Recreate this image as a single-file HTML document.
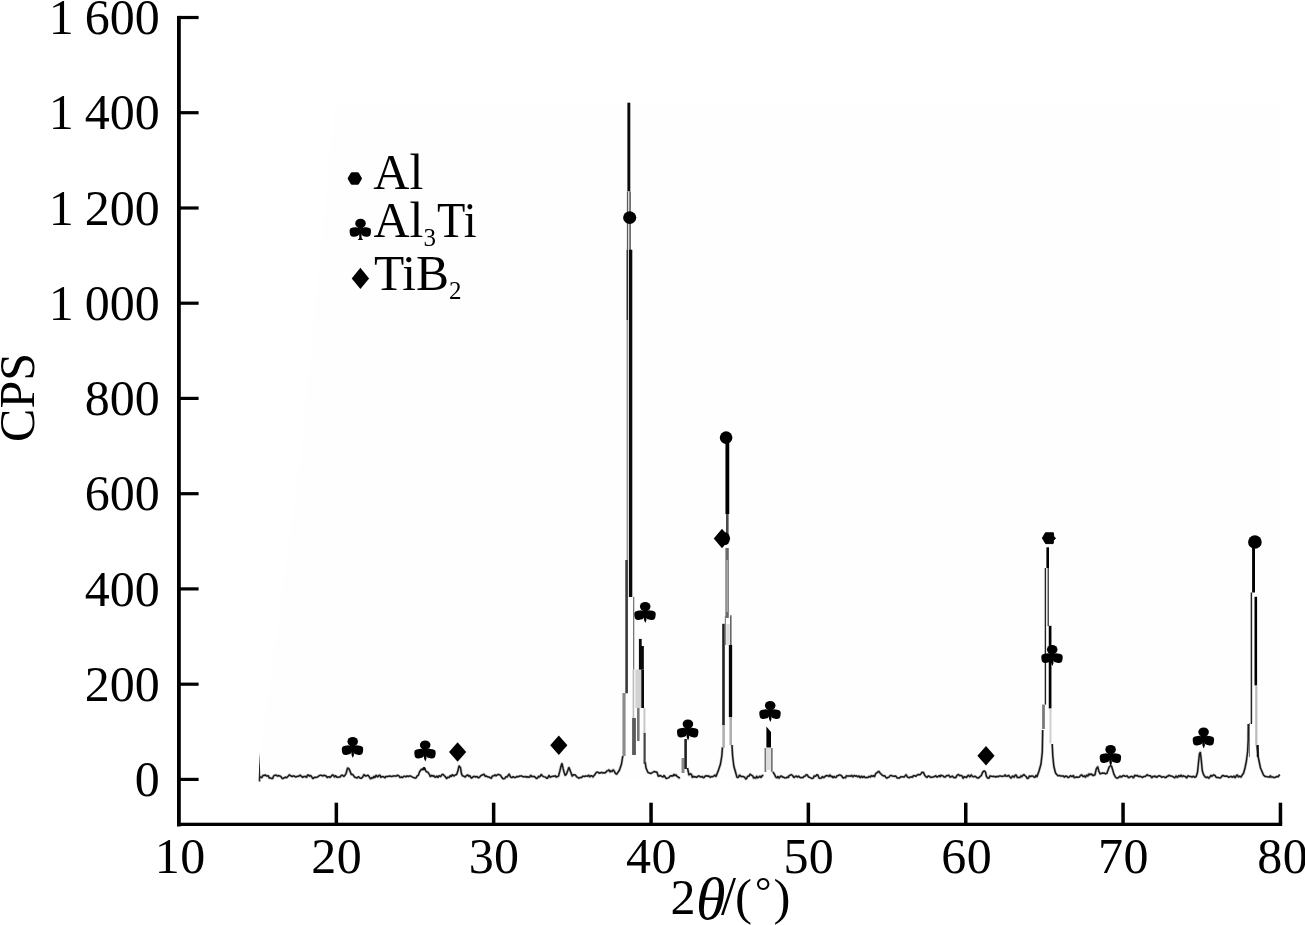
<!DOCTYPE html>
<html><head><meta charset="utf-8"><title>XRD</title>
<style>html,body{margin:0;padding:0;background:#fff;}body{width:1305px;height:925px;overflow:hidden;}svg{display:block;}text{font-family:"Liberation Serif",serif;fill:#000;}</style>
</head><body>
<svg width="1305" height="925" viewBox="0 0 1305 925">
<rect width="1305" height="925" fill="#fff"/>
<polygon points="335,102 1280,102 1280,779 259,779 262,740 300,460" fill="#fefefe"/>
<g fill="#000">
<rect x="177" y="15.9" width="3.8" height="810.6"/>
<rect x="177" y="822.7" width="1105.2" height="3.3"/>
<rect x="179" y="777.8" width="19.6" height="3.2"/>
<rect x="179" y="682.6" width="19.6" height="3.2"/>
<rect x="179" y="587.3" width="19.6" height="3.2"/>
<rect x="179" y="492.1" width="19.6" height="3.2"/>
<rect x="179" y="396.8" width="19.6" height="3.2"/>
<rect x="179" y="301.6" width="19.6" height="3.2"/>
<rect x="179" y="206.4" width="19.6" height="3.2"/>
<rect x="179" y="111.1" width="19.6" height="3.2"/>
<rect x="179" y="15.9" width="19.6" height="3.2"/>
<rect x="334.6" y="802.7" width="3.5" height="21"/>
<rect x="491.9" y="802.7" width="3.5" height="21"/>
<rect x="649.3" y="802.7" width="3.5" height="21"/>
<rect x="806.6" y="802.7" width="3.5" height="21"/>
<rect x="964.0" y="802.7" width="3.5" height="21"/>
<rect x="1121.3" y="802.7" width="3.5" height="21"/>
<rect x="1278.7" y="802.7" width="3.5" height="21"/>
</g>
<g font-size="50" text-anchor="end" word-spacing="-1.5">
<text x="159.8" y="796.0">0</text>
<text x="159.8" y="700.8">200</text>
<text x="159.8" y="605.5">400</text>
<text x="159.8" y="510.3">600</text>
<text x="159.8" y="415.1">800</text>
<text x="159.8" y="319.8">1 000</text>
<text x="159.8" y="224.6">1 200</text>
<text x="159.8" y="129.3">1 400</text>
<text x="159.8" y="34.1">1 600</text>
</g>
<g font-size="50" text-anchor="middle" letter-spacing="0.4">
<text x="180.2" y="872.6">10</text>
<text x="336.7" y="872.6">20</text>
<text x="494.1" y="872.6">30</text>
<text x="651.4" y="872.6">40</text>
<text x="808.8" y="872.6">50</text>
<text x="966.7" y="872.6">60</text>
<text x="1123.5" y="872.6">70</text>
<text x="1282.7" y="872.6">80</text>
</g>
<text font-size="50" text-anchor="middle" transform="translate(34.4,397.4) rotate(-90)">CPS</text>
<text font-size="50" x="670.6" y="914">2</text>
<text font-size="60" font-style="italic" x="696.0" y="919">θ</text>
<text font-size="54" x="720.9" y="914.3">/</text>
<text font-size="51" x="735" y="914">(</text>
<g style="will-change:transform"><text font-size="41" x="755.1" y="905.2">°</text></g>
<text font-size="51" x="773.6" y="914">)</text>
<text font-size="50" x="373.3" y="188.8">Al</text>
<text font-size="50" x="373.5" y="236.9">Al</text>
<g style="will-change:transform"><text font-size="25" x="423.4" y="245.8">3</text></g>
<text font-size="50" x="437.0" y="236.9" textLength="39.6" lengthAdjust="spacingAndGlyphs">Ti</text>
<text font-size="50" x="373.9" y="289.8" textLength="75.2" lengthAdjust="spacingAndGlyphs">TiB</text>
<g style="will-change:transform"><text font-size="25" x="448.9" y="299.1">2</text></g>
<g>
<polygon points="259.6,752 260.4,781.5 258.6,781.5" fill="#222"/>
<polyline fill="none" stroke="#666" stroke-opacity="0.38" stroke-width="2.8" stroke-linejoin="round" points="260.0,776.7 261.1,777.6 261.9,777.4 262.9,775.5 263.8,775.6 265.2,774.9 266.4,775.9 267.4,776.1 268.3,775.6 269.2,778.0 270.3,777.9 271.5,778.4 272.5,778.6 273.8,775.8 275.0,775.2 276.4,775.2 277.4,776.2 278.3,775.5 279.7,776.0 280.8,776.4 282.1,778.4 283.3,778.4 284.3,777.7 285.5,777.2 286.6,777.7 288.1,776.3 289.4,774.7 290.6,775.8 292.1,776.5 293.1,776.0 294.4,776.1 295.5,776.9 296.4,776.7 297.7,776.3 298.7,776.3 300.1,775.0 301.2,776.2 302.7,777.4 304.1,776.4 305.2,776.5 306.6,777.4 307.5,775.1 308.4,775.1 309.6,776.3 310.6,775.4 311.7,776.9 312.9,778.7 314.1,777.4 315.4,777.3 316.2,777.4 317.6,777.0 318.9,775.9 320.0,775.3 321.2,775.3 322.1,775.6 323.0,776.0 323.8,775.2 324.7,775.6 325.8,775.7 327.2,777.6 328.1,776.8 329.2,776.8 330.0,777.6 331.5,775.9 332.7,774.7 333.6,775.5 334.5,777.2 335.4,775.6 336.9,777.3 337.8,777.3 338.6,776.9 340.1,777.1 341.4,775.3 342.5,775.2 343.8,776.5 345.2,774.9 346.1,773.3 347.6,768.0 349.0,768.8 350.3,771.9 351.4,774.6 352.3,774.3 353.3,775.1 354.5,777.1 355.7,777.4 357.1,778.1 358.2,776.8 359.2,777.1 360.1,778.2 361.5,778.3 362.7,777.0 364.0,774.5 365.3,776.0 366.6,775.8 367.8,775.1 369.1,776.6 370.5,778.9 371.6,777.7 373.0,778.1 373.9,776.2 374.9,777.7 376.2,775.2 377.6,777.0 378.9,775.5 380.0,775.1 380.8,777.4 382.1,776.6 383.6,776.7 385.0,777.9 385.9,776.5 386.9,776.5 388.1,776.4 389.2,776.0 390.7,776.2 391.8,776.6 393.2,775.9 394.7,776.0 395.8,776.1 396.6,776.0 397.6,775.1 398.9,775.9 400.1,777.6 401.3,776.9 402.4,777.6 403.8,776.3 405.0,776.2 405.9,777.0 407.1,775.9 408.4,776.5 409.5,775.9 410.7,776.1 412.0,776.8 413.2,777.4 414.6,778.1 416.0,778.0 417.0,776.1 418.5,775.1 419.4,772.1 420.5,770.5 421.4,769.3 422.7,769.9 424.1,768.0 425.4,770.1 426.3,771.7 427.8,772.1 429.3,774.3 430.4,776.6 431.8,775.2 432.9,776.3 434.0,775.7 435.0,777.3 435.8,777.1 436.9,776.0 437.9,777.5 439.1,775.7 440.6,776.7 442.1,774.4 443.0,774.4 444.4,775.7 445.3,776.8 446.7,778.7 447.7,777.1 449.1,777.6 450.4,775.5 451.3,776.5 452.4,774.6 453.8,776.1 455.2,775.0 456.6,774.5 458.0,770.6 459.0,765.8 460.5,767.7 461.4,773.4 462.3,775.5 463.2,776.0 464.2,776.4 465.2,777.0 466.2,775.8 467.1,775.2 467.9,775.0 468.8,776.4 469.9,775.7 471.1,778.0 471.9,777.9 473.0,776.9 474.4,776.3 475.6,777.0 477.1,776.5 478.5,777.9 479.7,777.1 480.7,775.8 481.6,775.2 483.0,774.8 483.9,774.1 485.3,776.4 486.5,776.0 487.5,776.8 488.6,777.0 489.7,777.3 491.2,778.5 492.4,776.1 493.9,775.8 494.9,774.9 496.0,775.9 497.1,775.0 498.3,774.4 499.3,774.7 500.3,775.1 501.2,776.4 502.1,777.8 503.3,778.8 504.6,778.6 506.0,776.6 507.0,777.1 507.9,775.8 509.2,774.0 510.5,777.0 511.8,777.6 513.1,776.6 514.3,777.4 515.7,777.4 517.1,776.4 518.5,776.7 519.8,776.0 520.6,775.9 521.7,775.9 523.0,776.8 524.3,776.7 525.6,776.4 526.4,777.3 527.7,776.8 528.9,777.2 529.7,777.1 530.7,775.1 531.7,776.5 532.6,776.5 534.1,776.5 535.2,777.2 536.4,778.5 537.7,778.0 538.5,776.2 539.5,776.9 540.5,775.8 541.3,774.3 542.3,775.9 543.6,776.6 544.6,776.9 545.7,777.2 546.6,778.2 547.6,778.2 549.0,775.3 550.1,777.2 551.6,776.6 552.6,776.3 554.1,776.3 555.3,775.7 556.4,777.2 557.3,776.6 558.5,776.1 559.8,771.2 561.2,765.4 562.0,763.4 563.2,768.9 564.2,772.8 565.2,775.4 566.6,773.8 567.9,770.3 568.8,767.4 570.1,770.4 571.1,773.1 572.2,776.2 573.4,774.7 574.5,774.8 575.3,775.0 576.7,776.8 578.2,777.7 579.2,778.3 580.1,777.5 581.6,777.6 582.9,776.1 584.4,776.5 585.6,776.0 586.4,776.1 587.5,776.2 588.8,775.2 589.6,776.9 590.5,775.9 591.5,775.6 592.8,777.1 593.8,775.8 594.8,774.8 595.9,772.9 596.8,772.2 598.3,772.3 599.2,773.3 600.7,772.7 601.6,772.4 602.5,773.0 603.3,772.6 604.3,773.0 605.7,772.5 606.8,771.0 608.0,770.6 609.0,769.7 610.0,772.0 610.9,770.8 612.2,771.5 613.1,769.8 614.1,770.8 615.2,773.1 616.6,774.3 619.5,770.0 621.5,764.0 622.8,756.0"/><polyline fill="none" stroke="#1a1a1a" stroke-width="1.5" stroke-linejoin="bevel" points="260.0,776.7 261.1,777.6 261.9,777.4 262.9,775.5 263.8,775.6 265.2,774.9 266.4,775.9 267.4,776.1 268.3,775.6 269.2,778.0 270.3,777.9 271.5,778.4 272.5,778.6 273.8,775.8 275.0,775.2 276.4,775.2 277.4,776.2 278.3,775.5 279.7,776.0 280.8,776.4 282.1,778.4 283.3,778.4 284.3,777.7 285.5,777.2 286.6,777.7 288.1,776.3 289.4,774.7 290.6,775.8 292.1,776.5 293.1,776.0 294.4,776.1 295.5,776.9 296.4,776.7 297.7,776.3 298.7,776.3 300.1,775.0 301.2,776.2 302.7,777.4 304.1,776.4 305.2,776.5 306.6,777.4 307.5,775.1 308.4,775.1 309.6,776.3 310.6,775.4 311.7,776.9 312.9,778.7 314.1,777.4 315.4,777.3 316.2,777.4 317.6,777.0 318.9,775.9 320.0,775.3 321.2,775.3 322.1,775.6 323.0,776.0 323.8,775.2 324.7,775.6 325.8,775.7 327.2,777.6 328.1,776.8 329.2,776.8 330.0,777.6 331.5,775.9 332.7,774.7 333.6,775.5 334.5,777.2 335.4,775.6 336.9,777.3 337.8,777.3 338.6,776.9 340.1,777.1 341.4,775.3 342.5,775.2 343.8,776.5 345.2,774.9 346.1,773.3 347.6,768.0 349.0,768.8 350.3,771.9 351.4,774.6 352.3,774.3 353.3,775.1 354.5,777.1 355.7,777.4 357.1,778.1 358.2,776.8 359.2,777.1 360.1,778.2 361.5,778.3 362.7,777.0 364.0,774.5 365.3,776.0 366.6,775.8 367.8,775.1 369.1,776.6 370.5,778.9 371.6,777.7 373.0,778.1 373.9,776.2 374.9,777.7 376.2,775.2 377.6,777.0 378.9,775.5 380.0,775.1 380.8,777.4 382.1,776.6 383.6,776.7 385.0,777.9 385.9,776.5 386.9,776.5 388.1,776.4 389.2,776.0 390.7,776.2 391.8,776.6 393.2,775.9 394.7,776.0 395.8,776.1 396.6,776.0 397.6,775.1 398.9,775.9 400.1,777.6 401.3,776.9 402.4,777.6 403.8,776.3 405.0,776.2 405.9,777.0 407.1,775.9 408.4,776.5 409.5,775.9 410.7,776.1 412.0,776.8 413.2,777.4 414.6,778.1 416.0,778.0 417.0,776.1 418.5,775.1 419.4,772.1 420.5,770.5 421.4,769.3 422.7,769.9 424.1,768.0 425.4,770.1 426.3,771.7 427.8,772.1 429.3,774.3 430.4,776.6 431.8,775.2 432.9,776.3 434.0,775.7 435.0,777.3 435.8,777.1 436.9,776.0 437.9,777.5 439.1,775.7 440.6,776.7 442.1,774.4 443.0,774.4 444.4,775.7 445.3,776.8 446.7,778.7 447.7,777.1 449.1,777.6 450.4,775.5 451.3,776.5 452.4,774.6 453.8,776.1 455.2,775.0 456.6,774.5 458.0,770.6 459.0,765.8 460.5,767.7 461.4,773.4 462.3,775.5 463.2,776.0 464.2,776.4 465.2,777.0 466.2,775.8 467.1,775.2 467.9,775.0 468.8,776.4 469.9,775.7 471.1,778.0 471.9,777.9 473.0,776.9 474.4,776.3 475.6,777.0 477.1,776.5 478.5,777.9 479.7,777.1 480.7,775.8 481.6,775.2 483.0,774.8 483.9,774.1 485.3,776.4 486.5,776.0 487.5,776.8 488.6,777.0 489.7,777.3 491.2,778.5 492.4,776.1 493.9,775.8 494.9,774.9 496.0,775.9 497.1,775.0 498.3,774.4 499.3,774.7 500.3,775.1 501.2,776.4 502.1,777.8 503.3,778.8 504.6,778.6 506.0,776.6 507.0,777.1 507.9,775.8 509.2,774.0 510.5,777.0 511.8,777.6 513.1,776.6 514.3,777.4 515.7,777.4 517.1,776.4 518.5,776.7 519.8,776.0 520.6,775.9 521.7,775.9 523.0,776.8 524.3,776.7 525.6,776.4 526.4,777.3 527.7,776.8 528.9,777.2 529.7,777.1 530.7,775.1 531.7,776.5 532.6,776.5 534.1,776.5 535.2,777.2 536.4,778.5 537.7,778.0 538.5,776.2 539.5,776.9 540.5,775.8 541.3,774.3 542.3,775.9 543.6,776.6 544.6,776.9 545.7,777.2 546.6,778.2 547.6,778.2 549.0,775.3 550.1,777.2 551.6,776.6 552.6,776.3 554.1,776.3 555.3,775.7 556.4,777.2 557.3,776.6 558.5,776.1 559.8,771.2 561.2,765.4 562.0,763.4 563.2,768.9 564.2,772.8 565.2,775.4 566.6,773.8 567.9,770.3 568.8,767.4 570.1,770.4 571.1,773.1 572.2,776.2 573.4,774.7 574.5,774.8 575.3,775.0 576.7,776.8 578.2,777.7 579.2,778.3 580.1,777.5 581.6,777.6 582.9,776.1 584.4,776.5 585.6,776.0 586.4,776.1 587.5,776.2 588.8,775.2 589.6,776.9 590.5,775.9 591.5,775.6 592.8,777.1 593.8,775.8 594.8,774.8 595.9,772.9 596.8,772.2 598.3,772.3 599.2,773.3 600.7,772.7 601.6,772.4 602.5,773.0 603.3,772.6 604.3,773.0 605.7,772.5 606.8,771.0 608.0,770.6 609.0,769.7 610.0,772.0 610.9,770.8 612.2,771.5 613.1,769.8 614.1,770.8 615.2,773.1 616.6,774.3 619.5,770.0 621.5,764.0 622.8,756.0"/>
<polyline fill="none" stroke="#666" stroke-opacity="0.38" stroke-width="2.8" stroke-linejoin="round" points="645.2,762.0 646.0,768.0 648.0,772.5 651.0,773.5 654.0,771.5 657.0,772.2 658.3,776.3 659.4,776.0 660.2,775.4 661.7,776.3 663.1,777.0 664.0,775.3 665.0,776.8 666.2,778.5 667.5,778.1 668.9,777.6 670.1,776.1 671.4,775.8 672.9,776.0 673.9,774.3 674.8,775.6 676.1,774.8 677.0,776.4 678.2,777.0 679.1,778.0 680.0,777.4"/><polyline fill="none" stroke="#1a1a1a" stroke-width="1.5" stroke-linejoin="bevel" points="645.2,762.0 646.0,768.0 648.0,772.5 651.0,773.5 654.0,771.5 657.0,772.2 658.3,776.3 659.4,776.0 660.2,775.4 661.7,776.3 663.1,777.0 664.0,775.3 665.0,776.8 666.2,778.5 667.5,778.1 668.9,777.6 670.1,776.1 671.4,775.8 672.9,776.0 673.9,774.3 674.8,775.6 676.1,774.8 677.0,776.4 678.2,777.0 679.1,778.0 680.0,777.4"/>
<polyline fill="none" stroke="#666" stroke-opacity="0.38" stroke-width="2.8" stroke-linejoin="round" points="687.5,768.0 689.0,775.1 690.3,773.7 691.4,774.3 692.4,777.5 693.7,776.3 694.5,776.9 695.7,776.8 696.7,777.4 698.2,776.0 699.0,776.0 700.1,776.7 701.0,777.0 702.3,776.4 703.3,777.8 704.3,777.4 705.3,775.9 706.6,775.8 708.1,776.3 709.0,775.9 710.1,777.4 711.5,776.6 712.6,776.7 714.1,775.8 714.9,775.0 716.0,776.6 718.5,770.0 720.5,764.0 721.8,756.0 722.5,747.0"/><polyline fill="none" stroke="#1a1a1a" stroke-width="1.5" stroke-linejoin="bevel" points="687.5,768.0 689.0,775.1 690.3,773.7 691.4,774.3 692.4,777.5 693.7,776.3 694.5,776.9 695.7,776.8 696.7,777.4 698.2,776.0 699.0,776.0 700.1,776.7 701.0,777.0 702.3,776.4 703.3,777.8 704.3,777.4 705.3,775.9 706.6,775.8 708.1,776.3 709.0,775.9 710.1,777.4 711.5,776.6 712.6,776.7 714.1,775.8 714.9,775.0 716.0,776.6 718.5,770.0 720.5,764.0 721.8,756.0 722.5,747.0"/>
<polyline fill="none" stroke="#666" stroke-opacity="0.38" stroke-width="2.8" stroke-linejoin="round" points="732.0,745.0 732.6,756.0 733.8,766.0 735.5,772.0 737.0,777.4 738.5,777.3 739.5,775.0 741.0,776.4 741.8,776.5 742.9,776.6 743.9,776.8 744.7,777.4 745.8,779.0 746.6,778.5 747.6,776.2 749.0,776.2 750.1,774.0 751.2,775.1 752.6,775.8 753.7,778.3 754.5,777.3 755.9,778.2 756.7,776.1 757.6,778.0 758.5,777.3 760.0,776.1 761.0,777.6 762.2,775.6 763.5,775.4"/><polyline fill="none" stroke="#1a1a1a" stroke-width="1.5" stroke-linejoin="bevel" points="732.0,745.0 732.6,756.0 733.8,766.0 735.5,772.0 737.0,777.4 738.5,777.3 739.5,775.0 741.0,776.4 741.8,776.5 742.9,776.6 743.9,776.8 744.7,777.4 745.8,779.0 746.6,778.5 747.6,776.2 749.0,776.2 750.1,774.0 751.2,775.1 752.6,775.8 753.7,778.3 754.5,777.3 755.9,778.2 756.7,776.1 757.6,778.0 758.5,777.3 760.0,776.1 761.0,777.6 762.2,775.6 763.5,775.4"/>
<polyline fill="none" stroke="#666" stroke-opacity="0.38" stroke-width="2.8" stroke-linejoin="round" points="773.0,772.0 774.5,774.4 775.8,777.1 777.1,777.9 777.9,776.4 779.0,778.2 780.5,776.2 781.5,776.0 782.6,777.2 783.5,777.1 784.9,777.9 786.2,777.8 787.2,777.0 788.3,777.6 789.1,775.6 790.5,775.1 791.3,774.5 792.5,775.5 794.0,777.6 795.5,776.3 796.3,775.9 797.5,777.3 798.6,776.1 799.7,777.3 801.0,777.8 802.3,777.4 803.2,777.5 804.2,776.2 805.3,776.1 806.2,774.7 807.2,774.8 808.6,777.0 809.7,777.4 811.2,778.1 812.1,778.5 813.4,777.9 814.2,775.9 815.6,776.2 817.1,774.6 818.1,775.4 819.0,778.1 820.2,778.3 821.3,778.1 822.4,776.4 823.7,777.8 824.6,776.8 825.8,775.8 826.9,775.6 827.8,775.7 829.1,776.5 830.0,774.8 831.0,776.7 832.0,776.1 832.9,777.8 834.1,776.4 835.0,777.3 836.1,777.5 837.0,775.8 838.3,775.5 839.3,774.9 840.8,775.3 841.9,776.2 843.0,778.1 844.5,777.3 845.5,778.0 846.4,775.7 847.8,776.1 849.2,775.9 850.6,776.2 851.6,775.2 852.7,776.9 854.2,775.5 855.4,776.2 856.6,775.7 857.6,776.8 859.0,776.0 860.2,777.7 861.6,776.0 862.5,777.6 864.0,776.3 864.8,777.4 865.9,777.5 867.1,777.5 868.1,777.4 869.0,776.3 870.4,777.1 871.3,775.5 872.4,776.3 873.5,775.5 874.5,776.8 875.9,773.3 877.1,772.7 877.9,771.8 878.8,771.3 880.0,773.0 881.0,774.0 882.2,775.1 883.5,776.0 884.6,775.6 885.8,777.3 886.8,778.2 888.1,777.4 889.0,777.1 889.9,775.9 891.0,775.3 892.1,775.9 892.9,776.1 893.8,776.3 895.1,776.0 896.0,776.3 897.1,777.9 897.9,778.1 899.4,778.1 900.8,776.7 902.3,776.8 903.8,777.1 904.7,776.4 906.1,774.6 907.2,776.6 908.1,777.4 909.1,777.7 910.0,777.3 911.4,776.8 912.4,777.3 913.4,775.7 914.4,775.6 915.8,776.4 917.2,774.9 918.6,774.5 919.8,774.8 920.8,774.0 922.0,772.3 923.4,772.4 924.9,775.6 926.0,776.8 927.0,777.5 928.2,776.0 929.5,776.3 930.4,777.2 931.3,777.4 932.3,777.0 933.7,776.9 935.0,776.3 935.8,775.6 936.7,777.1 937.8,776.7 939.2,775.5 940.2,776.8 941.0,775.2 942.1,775.6 943.1,776.0 944.3,777.1 945.3,777.1 946.4,775.7 947.9,775.5 948.8,775.1 950.0,777.2 951.4,776.6 952.3,776.0 953.6,777.6 954.6,777.5 955.8,777.7 957.1,775.2 958.5,774.5 959.7,775.7 960.6,775.4 962.0,775.9 963.2,778.5 964.1,776.6 965.3,777.0 966.5,777.5 967.5,776.0 968.5,775.2 969.9,776.9 971.2,774.8 972.6,776.6 973.7,776.9 974.8,776.2 975.7,776.7 976.5,777.3 977.9,778.2 979.2,777.5 980.2,776.3 981.3,775.7 982.5,772.4 983.8,771.1 984.7,771.1 985.5,772.1 986.5,776.6 987.9,778.2 989.0,778.1 990.0,775.9 991.4,776.3 992.7,776.4 994.2,776.3 995.6,777.0 997.0,776.3 998.3,776.7 999.3,776.0 1000.6,776.0 1002.0,776.4 1002.8,776.2 1004.3,776.1 1005.2,774.8 1006.0,776.2 1007.2,776.2 1008.6,775.3 1009.8,776.8 1011.1,778.2 1012.6,775.9 1014.0,777.3 1015.4,775.0 1016.4,775.2 1017.2,777.5 1018.6,777.5 1019.9,777.5 1020.9,775.8 1021.8,776.9 1022.8,775.4 1023.9,774.5 1024.8,775.5 1026.1,776.5 1027.2,778.4 1028.3,778.3 1029.5,775.9 1030.6,776.5 1032.0,775.9 1033.3,776.4 1034.2,777.3 1035.1,777.3 1036.0,775.2 1036.9,776.9 1039.0,771.0 1041.0,764.0 1042.3,752.0 1042.7,730.0"/><polyline fill="none" stroke="#1a1a1a" stroke-width="1.5" stroke-linejoin="bevel" points="773.0,772.0 774.5,774.4 775.8,777.1 777.1,777.9 777.9,776.4 779.0,778.2 780.5,776.2 781.5,776.0 782.6,777.2 783.5,777.1 784.9,777.9 786.2,777.8 787.2,777.0 788.3,777.6 789.1,775.6 790.5,775.1 791.3,774.5 792.5,775.5 794.0,777.6 795.5,776.3 796.3,775.9 797.5,777.3 798.6,776.1 799.7,777.3 801.0,777.8 802.3,777.4 803.2,777.5 804.2,776.2 805.3,776.1 806.2,774.7 807.2,774.8 808.6,777.0 809.7,777.4 811.2,778.1 812.1,778.5 813.4,777.9 814.2,775.9 815.6,776.2 817.1,774.6 818.1,775.4 819.0,778.1 820.2,778.3 821.3,778.1 822.4,776.4 823.7,777.8 824.6,776.8 825.8,775.8 826.9,775.6 827.8,775.7 829.1,776.5 830.0,774.8 831.0,776.7 832.0,776.1 832.9,777.8 834.1,776.4 835.0,777.3 836.1,777.5 837.0,775.8 838.3,775.5 839.3,774.9 840.8,775.3 841.9,776.2 843.0,778.1 844.5,777.3 845.5,778.0 846.4,775.7 847.8,776.1 849.2,775.9 850.6,776.2 851.6,775.2 852.7,776.9 854.2,775.5 855.4,776.2 856.6,775.7 857.6,776.8 859.0,776.0 860.2,777.7 861.6,776.0 862.5,777.6 864.0,776.3 864.8,777.4 865.9,777.5 867.1,777.5 868.1,777.4 869.0,776.3 870.4,777.1 871.3,775.5 872.4,776.3 873.5,775.5 874.5,776.8 875.9,773.3 877.1,772.7 877.9,771.8 878.8,771.3 880.0,773.0 881.0,774.0 882.2,775.1 883.5,776.0 884.6,775.6 885.8,777.3 886.8,778.2 888.1,777.4 889.0,777.1 889.9,775.9 891.0,775.3 892.1,775.9 892.9,776.1 893.8,776.3 895.1,776.0 896.0,776.3 897.1,777.9 897.9,778.1 899.4,778.1 900.8,776.7 902.3,776.8 903.8,777.1 904.7,776.4 906.1,774.6 907.2,776.6 908.1,777.4 909.1,777.7 910.0,777.3 911.4,776.8 912.4,777.3 913.4,775.7 914.4,775.6 915.8,776.4 917.2,774.9 918.6,774.5 919.8,774.8 920.8,774.0 922.0,772.3 923.4,772.4 924.9,775.6 926.0,776.8 927.0,777.5 928.2,776.0 929.5,776.3 930.4,777.2 931.3,777.4 932.3,777.0 933.7,776.9 935.0,776.3 935.8,775.6 936.7,777.1 937.8,776.7 939.2,775.5 940.2,776.8 941.0,775.2 942.1,775.6 943.1,776.0 944.3,777.1 945.3,777.1 946.4,775.7 947.9,775.5 948.8,775.1 950.0,777.2 951.4,776.6 952.3,776.0 953.6,777.6 954.6,777.5 955.8,777.7 957.1,775.2 958.5,774.5 959.7,775.7 960.6,775.4 962.0,775.9 963.2,778.5 964.1,776.6 965.3,777.0 966.5,777.5 967.5,776.0 968.5,775.2 969.9,776.9 971.2,774.8 972.6,776.6 973.7,776.9 974.8,776.2 975.7,776.7 976.5,777.3 977.9,778.2 979.2,777.5 980.2,776.3 981.3,775.7 982.5,772.4 983.8,771.1 984.7,771.1 985.5,772.1 986.5,776.6 987.9,778.2 989.0,778.1 990.0,775.9 991.4,776.3 992.7,776.4 994.2,776.3 995.6,777.0 997.0,776.3 998.3,776.7 999.3,776.0 1000.6,776.0 1002.0,776.4 1002.8,776.2 1004.3,776.1 1005.2,774.8 1006.0,776.2 1007.2,776.2 1008.6,775.3 1009.8,776.8 1011.1,778.2 1012.6,775.9 1014.0,777.3 1015.4,775.0 1016.4,775.2 1017.2,777.5 1018.6,777.5 1019.9,777.5 1020.9,775.8 1021.8,776.9 1022.8,775.4 1023.9,774.5 1024.8,775.5 1026.1,776.5 1027.2,778.4 1028.3,778.3 1029.5,775.9 1030.6,776.5 1032.0,775.9 1033.3,776.4 1034.2,777.3 1035.1,777.3 1036.0,775.2 1036.9,776.9 1039.0,771.0 1041.0,764.0 1042.3,752.0 1042.7,730.0"/>
<polyline fill="none" stroke="#666" stroke-opacity="0.38" stroke-width="2.8" stroke-linejoin="round" points="1052.2,744.0 1052.8,756.0 1053.8,766.0 1055.5,773.0 1057.0,774.7 1058.1,775.9 1059.5,775.4 1060.6,776.1 1062.0,775.9 1063.5,776.0 1064.4,777.2 1065.6,776.1 1066.8,776.3 1068.2,777.6 1069.5,776.8 1070.6,775.6 1071.7,776.5 1072.5,776.6 1073.3,775.3 1074.3,777.7 1075.5,777.2 1076.9,777.1 1078.0,777.3 1079.3,777.0 1080.6,775.4 1081.6,774.8 1083.0,776.6 1084.3,775.8 1085.4,777.3 1086.6,775.1 1087.8,776.2 1088.7,773.9 1089.7,774.9 1091.1,773.9 1092.0,774.6 1093.1,775.6 1094.0,774.9 1094.9,775.1 1096.2,769.1 1097.7,766.7 1098.8,771.0 1100.1,773.9 1101.2,773.5 1102.5,773.0 1103.4,773.2 1104.3,773.1 1105.6,773.9 1106.8,773.4 1107.9,770.4 1109.1,767.2 1110.4,765.6 1111.5,766.1 1112.8,770.2 1113.8,773.9 1115.2,776.7 1116.5,778.1 1117.8,778.1 1118.9,777.2 1120.1,776.1 1121.2,777.1 1122.5,776.1 1123.5,775.4 1124.6,776.0 1125.7,776.4 1127.2,775.8 1128.4,777.7 1129.5,777.3 1131.0,776.4 1132.2,776.6 1133.5,778.0 1134.7,775.2 1135.9,775.7 1137.2,775.4 1138.4,776.5 1139.6,776.2 1141.1,776.6 1142.3,777.5 1143.7,776.6 1145.2,776.4 1146.0,775.8 1147.1,774.7 1148.2,775.6 1149.5,775.7 1150.4,775.7 1151.8,777.9 1152.9,776.3 1154.3,776.7 1155.2,775.9 1156.6,777.4 1157.8,776.4 1159.0,775.7 1160.5,776.1 1161.7,777.4 1163.1,776.6 1164.1,776.9 1165.0,777.5 1166.1,777.5 1167.0,776.2 1168.0,776.3 1169.0,775.2 1170.3,775.9 1171.2,776.0 1172.4,776.4 1173.6,777.2 1174.7,777.9 1176.1,775.8 1177.4,777.7 1178.8,775.5 1180.2,776.6 1181.0,775.0 1182.4,776.8 1183.4,775.7 1184.3,776.2 1185.7,776.7 1186.6,778.0 1187.9,775.8 1189.4,776.4 1190.7,776.5 1192.1,777.1 1193.5,776.2 1194.8,777.4 1196.1,776.7 1197.5,772.3 1198.5,762.5 1199.4,754.1 1200.3,752.2 1201.2,759.3 1202.3,770.8 1203.7,774.9 1205.1,776.9 1206.3,777.7 1207.7,777.0 1208.8,778.4 1209.6,777.4 1210.9,775.3 1212.1,776.3 1213.6,774.8 1215.0,775.5 1216.2,777.3 1217.0,777.6 1218.2,777.5 1219.6,777.9 1220.8,777.7 1222.1,775.8 1223.2,775.5 1224.4,776.2 1225.4,776.3 1226.5,776.0 1227.5,776.5 1229.0,777.3 1230.3,776.6 1231.3,776.5 1232.6,777.3 1233.9,775.9 1235.2,777.9 1236.4,775.5 1237.4,775.0 1238.3,777.0 1239.6,776.2 1240.9,777.2 1243.6,773.0 1245.0,768.0 1246.4,761.0 1247.6,752.0 1248.2,740.0 1248.3,724.0"/><polyline fill="none" stroke="#1a1a1a" stroke-width="1.5" stroke-linejoin="bevel" points="1052.2,744.0 1052.8,756.0 1053.8,766.0 1055.5,773.0 1057.0,774.7 1058.1,775.9 1059.5,775.4 1060.6,776.1 1062.0,775.9 1063.5,776.0 1064.4,777.2 1065.6,776.1 1066.8,776.3 1068.2,777.6 1069.5,776.8 1070.6,775.6 1071.7,776.5 1072.5,776.6 1073.3,775.3 1074.3,777.7 1075.5,777.2 1076.9,777.1 1078.0,777.3 1079.3,777.0 1080.6,775.4 1081.6,774.8 1083.0,776.6 1084.3,775.8 1085.4,777.3 1086.6,775.1 1087.8,776.2 1088.7,773.9 1089.7,774.9 1091.1,773.9 1092.0,774.6 1093.1,775.6 1094.0,774.9 1094.9,775.1 1096.2,769.1 1097.7,766.7 1098.8,771.0 1100.1,773.9 1101.2,773.5 1102.5,773.0 1103.4,773.2 1104.3,773.1 1105.6,773.9 1106.8,773.4 1107.9,770.4 1109.1,767.2 1110.4,765.6 1111.5,766.1 1112.8,770.2 1113.8,773.9 1115.2,776.7 1116.5,778.1 1117.8,778.1 1118.9,777.2 1120.1,776.1 1121.2,777.1 1122.5,776.1 1123.5,775.4 1124.6,776.0 1125.7,776.4 1127.2,775.8 1128.4,777.7 1129.5,777.3 1131.0,776.4 1132.2,776.6 1133.5,778.0 1134.7,775.2 1135.9,775.7 1137.2,775.4 1138.4,776.5 1139.6,776.2 1141.1,776.6 1142.3,777.5 1143.7,776.6 1145.2,776.4 1146.0,775.8 1147.1,774.7 1148.2,775.6 1149.5,775.7 1150.4,775.7 1151.8,777.9 1152.9,776.3 1154.3,776.7 1155.2,775.9 1156.6,777.4 1157.8,776.4 1159.0,775.7 1160.5,776.1 1161.7,777.4 1163.1,776.6 1164.1,776.9 1165.0,777.5 1166.1,777.5 1167.0,776.2 1168.0,776.3 1169.0,775.2 1170.3,775.9 1171.2,776.0 1172.4,776.4 1173.6,777.2 1174.7,777.9 1176.1,775.8 1177.4,777.7 1178.8,775.5 1180.2,776.6 1181.0,775.0 1182.4,776.8 1183.4,775.7 1184.3,776.2 1185.7,776.7 1186.6,778.0 1187.9,775.8 1189.4,776.4 1190.7,776.5 1192.1,777.1 1193.5,776.2 1194.8,777.4 1196.1,776.7 1197.5,772.3 1198.5,762.5 1199.4,754.1 1200.3,752.2 1201.2,759.3 1202.3,770.8 1203.7,774.9 1205.1,776.9 1206.3,777.7 1207.7,777.0 1208.8,778.4 1209.6,777.4 1210.9,775.3 1212.1,776.3 1213.6,774.8 1215.0,775.5 1216.2,777.3 1217.0,777.6 1218.2,777.5 1219.6,777.9 1220.8,777.7 1222.1,775.8 1223.2,775.5 1224.4,776.2 1225.4,776.3 1226.5,776.0 1227.5,776.5 1229.0,777.3 1230.3,776.6 1231.3,776.5 1232.6,777.3 1233.9,775.9 1235.2,777.9 1236.4,775.5 1237.4,775.0 1238.3,777.0 1239.6,776.2 1240.9,777.2 1243.6,773.0 1245.0,768.0 1246.4,761.0 1247.6,752.0 1248.2,740.0 1248.3,724.0"/>
<polyline fill="none" stroke="#666" stroke-opacity="0.38" stroke-width="2.8" stroke-linejoin="round" points="1257.0,745.0 1258.2,757.0 1260.5,768.0 1263.5,775.0 1265.0,776.4 1266.2,776.6 1267.5,776.8 1268.4,776.9 1269.5,777.2 1270.4,775.6 1271.2,777.1 1272.7,776.9 1273.7,777.6 1275.1,777.4 1276.1,776.8 1277.1,776.5 1278.2,776.7 1279.7,774.5"/><polyline fill="none" stroke="#1a1a1a" stroke-width="1.5" stroke-linejoin="bevel" points="1257.0,745.0 1258.2,757.0 1260.5,768.0 1263.5,775.0 1265.0,776.4 1266.2,776.6 1267.5,776.8 1268.4,776.9 1269.5,777.2 1270.4,775.6 1271.2,777.1 1272.7,776.9 1273.7,777.6 1275.1,777.4 1276.1,776.8 1277.1,776.5 1278.2,776.7 1279.7,774.5"/>
<circle cx="424" cy="768.6" r="1.7" fill="#111"/>
<rect x="627.40" y="102.7" width="2.9" height="88.8" fill="#0a0a0a"/>
<rect x="627.00" y="191.5" width="3.6" height="58.5" fill="#d8d8d8"/>
<rect x="626.85" y="191.5" width="1.1" height="58.5" fill="#5a5a5a"/>
<rect x="629.45" y="191.5" width="1.3" height="58.5" fill="#4a4a4a"/>
<rect x="628.90" y="249.7" width="3.4" height="347.3" fill="#0a0a0a"/>
<rect x="626.50" y="250.0" width="1.6" height="70.0" fill="#333"/>
<rect x="626.50" y="320.0" width="1.6" height="240.0" fill="#9a9a9a"/>
<rect x="625.30" y="560.0" width="2.6" height="133.3" fill="#3a3a3a"/>
<rect x="622.40" y="693.0" width="3.2" height="63.0" fill="#8c8c8c"/>
<rect x="633.00" y="597.0" width="1.3" height="72.6" fill="#777"/>
<rect x="632.60" y="669.6" width="1.6" height="48.4" fill="#bbb"/>
<rect x="632.10" y="718.0" width="3.8" height="37.0" fill="#5a5a5a"/>
<rect x="635.30" y="669.6" width="6.0" height="38.4" fill="#d2d2d2"/>
<rect x="637.00" y="708.0" width="2.6" height="33.0" fill="#777"/>
<rect x="638.90" y="638.9" width="2.8" height="30.7" fill="#0a0a0a"/>
<rect x="640.95" y="646.0" width="2.9" height="23.6" fill="#0a0a0a"/>
<rect x="641.30" y="669.6" width="2.7" height="38.4" fill="#0a0a0a"/>
<rect x="643.40" y="708.0" width="2" height="25.5" fill="#c8c8c8"/>
<rect x="643.50" y="733.0" width="2.2" height="31.0" fill="#444"/>
<rect x="681.50" y="758.0" width="3" height="15.0" fill="#8a8a8a"/>
<rect x="684.30" y="739.0" width="2.6" height="30.0" fill="#222"/>
<rect x="725.45" y="443.0" width="3.8" height="71.0" fill="#000"/>
<rect x="726.00" y="514.0" width="2.6" height="22.0" fill="#4a4a4a"/>
<rect x="725.40" y="548.0" width="3.4" height="70.0" fill="#6a6a6a"/>
<rect x="726.60" y="560.0" width="1.0" height="52.0" fill="#cfcfcf"/>
<rect x="722.20" y="623.8" width="2.6" height="101.2" fill="#222"/>
<rect x="722.30" y="725.0" width="2.6" height="23.0" fill="#b0b0b0"/>
<rect x="724.80" y="616.0" width="1.2" height="29.0" fill="#888"/>
<rect x="730.00" y="615.3" width="1.6" height="29.7" fill="#666"/>
<rect x="726.25" y="624.0" width="3.5" height="21.0" fill="#ddd"/>
<rect x="728.85" y="645.0" width="3.3" height="72.0" fill="#050505"/>
<rect x="729.40" y="717.0" width="2.6" height="28.0" fill="#b0b0b0"/>
<polygon points="766.4,726.6 771,732 771,747.6 766.4,747.6" fill="#000"/>
<rect x="764.50" y="748.0" width="1.8" height="24.0" fill="#777"/>
<rect x="770.90" y="748.0" width="1.8" height="24.0" fill="#777"/>
<rect x="766.30" y="748.0" width="4.6" height="22.0" fill="#ddd"/>
<rect x="1046.40" y="547.3" width="2.6" height="20.7" fill="#000"/>
<rect x="1044.70" y="568.0" width="1.4" height="136.6" fill="#222"/>
<rect x="1047.60" y="568.0" width="1.2" height="58.0" fill="#222"/>
<rect x="1042.10" y="704.6" width="2.8" height="24.4" fill="#7a7a7a"/>
<rect x="1048.75" y="625.8" width="2.7" height="82.7" fill="#000"/>
<rect x="1049.50" y="708.5" width="2" height="35.0" fill="#d0d0d0"/>
<rect x="1252.10" y="548.0" width="2.9" height="44.5" fill="#000"/>
<rect x="1250.65" y="592.5" width="1.5" height="131.5" fill="#222"/>
<rect x="1254.50" y="596.8" width="2.6" height="88.7" fill="#000"/>
<rect x="1255.20" y="685.5" width="2.2" height="60.0" fill="#bbb"/>
<rect x="1256.80" y="745.0" width="2" height="12.0" fill="#111"/>
<rect x="1249.00" y="723.0" width="1.0" height="34.0" fill="#777"/>
</g>
<g fill="#000">
<polygon points="349.2,178.6 352.0,173.85 357.6,173.85 360.40000000000003,178.6 357.6,183.35 352.0,183.35" stroke="#000" stroke-width="3.0" stroke-linejoin="round"/>
<g transform="translate(360.3,229.3) scale(1.0)"><ellipse cx="0.2" cy="-5.9" rx="5.3" ry="4.7"/><rect x="-10.6" y="-2.0" width="9.6" height="9.3" rx="3.8" ry="3.8" transform="rotate(-8 -5.8 2.6)"/><rect x="1.0" y="-2.0" width="9.6" height="9.3" rx="3.8" ry="3.8" transform="rotate(8 5.8 2.6)"/><path d="M-2.4,-3 L2.4,-3 L3.2,3.5 L1.2,4.2 L1.3,8.6 L2.8,10.6 L-2.4,10.6 L-1.0,8.6 L-1.2,4.2 L-3.2,3.5 Z"/></g>
<polygon points="360.4,267.79999999999995 369.09999999999997,278.4 360.4,289.0 351.7,278.4"/>
<ellipse cx="629.7" cy="217.6" rx="6.6" ry="6.3"/>
<circle cx="726.1" cy="437.6" r="6.3"/>
<polygon points="1042.4,538.1 1045.4,532.8 1053.4,532.8 1053.7,536.2 1055.5,538.3 1053.5,540.4 1053.1,543.6 1045.6,543.6" stroke="#000" stroke-width="1" stroke-linejoin="round"/>
<circle cx="1254.9" cy="542" r="6.85"/>
<g transform="translate(352.5,747.5) scale(1.0)"><ellipse cx="0.2" cy="-5.9" rx="5.3" ry="4.7"/><rect x="-10.6" y="-2.0" width="9.6" height="9.3" rx="3.8" ry="3.8" transform="rotate(-8 -5.8 2.6)"/><rect x="1.0" y="-2.0" width="9.6" height="9.3" rx="3.8" ry="3.8" transform="rotate(8 5.8 2.6)"/><path d="M-2.4,-3 L2.4,-3 L3.2,3.5 L1.2,4.2 L1.5,7.5 L0.4,10.6 L-0.9,7.8 L-1.2,4.2 L-3.2,3.5 Z"/></g>
<g transform="translate(425,751) scale(1.0)"><ellipse cx="0.2" cy="-5.9" rx="5.3" ry="4.7"/><rect x="-10.6" y="-2.0" width="9.6" height="9.3" rx="3.8" ry="3.8" transform="rotate(-8 -5.8 2.6)"/><rect x="1.0" y="-2.0" width="9.6" height="9.3" rx="3.8" ry="3.8" transform="rotate(8 5.8 2.6)"/><path d="M-2.4,-3 L2.4,-3 L3.2,3.5 L1.2,4.2 L1.5,7.5 L0.4,10.6 L-0.9,7.8 L-1.2,4.2 L-3.2,3.5 Z"/></g>
<g transform="translate(645,612.5) scale(1.0)"><ellipse cx="0.2" cy="-5.9" rx="5.3" ry="4.7"/><rect x="-10.6" y="-2.0" width="9.6" height="9.3" rx="3.8" ry="3.8" transform="rotate(-8 -5.8 2.6)"/><rect x="1.0" y="-2.0" width="9.6" height="9.3" rx="3.8" ry="3.8" transform="rotate(8 5.8 2.6)"/><path d="M-2.4,-3 L2.4,-3 L3.2,3.5 L1.2,4.2 L1.5,7.5 L0.4,10.6 L-0.9,7.8 L-1.2,4.2 L-3.2,3.5 Z"/></g>
<g transform="translate(687.7,730) scale(1.0)"><ellipse cx="0.2" cy="-5.9" rx="5.3" ry="4.7"/><rect x="-10.6" y="-2.0" width="9.6" height="9.3" rx="3.8" ry="3.8" transform="rotate(-8 -5.8 2.6)"/><rect x="1.0" y="-2.0" width="9.6" height="9.3" rx="3.8" ry="3.8" transform="rotate(8 5.8 2.6)"/><path d="M-2.4,-3 L2.4,-3 L3.2,3.5 L1.2,4.2 L1.5,7.5 L0.4,10.6 L-0.9,7.8 L-1.2,4.2 L-3.2,3.5 Z"/></g>
<g transform="translate(770,711.5) scale(1.0)"><ellipse cx="0.2" cy="-5.9" rx="5.3" ry="4.7"/><rect x="-10.6" y="-2.0" width="9.6" height="9.3" rx="3.8" ry="3.8" transform="rotate(-8 -5.8 2.6)"/><rect x="1.0" y="-2.0" width="9.6" height="9.3" rx="3.8" ry="3.8" transform="rotate(8 5.8 2.6)"/><path d="M-2.4,-3 L2.4,-3 L3.2,3.5 L1.2,4.2 L1.5,7.5 L0.4,10.6 L-0.9,7.8 L-1.2,4.2 L-3.2,3.5 Z"/></g>
<g transform="translate(1052,655.5) scale(1.0)"><ellipse cx="0.2" cy="-5.9" rx="5.3" ry="4.7"/><rect x="-10.6" y="-2.0" width="9.6" height="9.3" rx="3.8" ry="3.8" transform="rotate(-8 -5.8 2.6)"/><rect x="1.0" y="-2.0" width="9.6" height="9.3" rx="3.8" ry="3.8" transform="rotate(8 5.8 2.6)"/><path d="M-2.4,-3 L2.4,-3 L3.2,3.5 L1.2,4.2 L1.5,7.5 L0.4,10.6 L-0.9,7.8 L-1.2,4.2 L-3.2,3.5 Z"/></g>
<g transform="translate(1110.4,755.5) scale(1.0)"><ellipse cx="0.2" cy="-5.9" rx="5.3" ry="4.7"/><rect x="-10.6" y="-2.0" width="9.6" height="9.3" rx="3.8" ry="3.8" transform="rotate(-8 -5.8 2.6)"/><rect x="1.0" y="-2.0" width="9.6" height="9.3" rx="3.8" ry="3.8" transform="rotate(8 5.8 2.6)"/><path d="M-2.4,-3 L2.4,-3 L3.2,3.5 L1.2,4.2 L1.5,7.5 L0.4,10.6 L-0.9,7.8 L-1.2,4.2 L-3.2,3.5 Z"/></g>
<g transform="translate(1203.4,738) scale(1.0)"><ellipse cx="0.2" cy="-5.9" rx="5.3" ry="4.7"/><rect x="-10.6" y="-2.0" width="9.6" height="9.3" rx="3.8" ry="3.8" transform="rotate(-8 -5.8 2.6)"/><rect x="1.0" y="-2.0" width="9.6" height="9.3" rx="3.8" ry="3.8" transform="rotate(8 5.8 2.6)"/><path d="M-2.4,-3 L2.4,-3 L3.2,3.5 L1.2,4.2 L1.5,7.5 L0.4,10.6 L-0.9,7.8 L-1.2,4.2 L-3.2,3.5 Z"/></g>
<polygon points="457.6,742.2 466.20000000000005,752 457.6,761.8 449.0,752"/>
<polygon points="558.8,735.5 567.4,745.3 558.8,755.0999999999999 550.1999999999999,745.3"/>
<polygon points="722,528.7 730.25,538.5 722,548.3 713.75,538.5"/>
<ellipse cx="725.0" cy="538.6" rx="4.9" ry="6.4"/>
<polygon points="986,745.9000000000001 994.6,755.7 986,765.5 977.4,755.7"/>
</g>
</svg></body></html>
